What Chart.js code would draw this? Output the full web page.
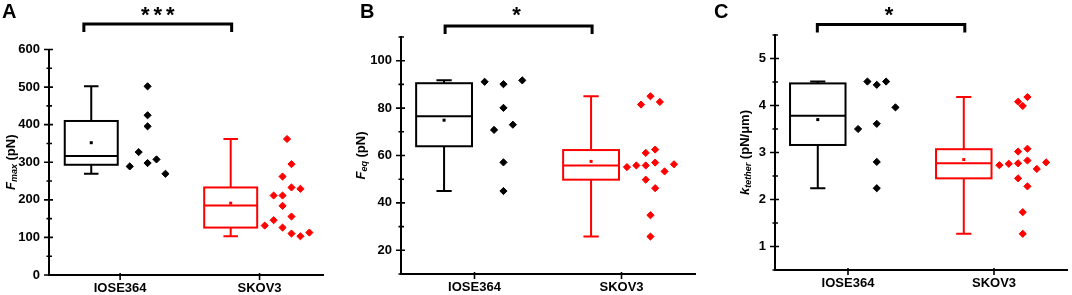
<!DOCTYPE html>
<html>
<head>
<meta charset="utf-8">
<script src="https://cdn.jsdelivr.net/npm/chart.js@4.4.0/dist/chart.umd.min.js"></script>
<style>
  html, body { margin: 0; padding: 0; background: #fff; }
  #wrap { position: relative; width: 1072px; height: 295px; overflow: hidden; }
  #wrap canvas { position: absolute; top: 0; }
</style>
</head>
<body>
<div id="wrap">
  <canvas id="chartA" width="357" height="295" style="left:0px"></canvas>
  <canvas id="chartB" width="369" height="295" style="left:345px"></canvas>
  <canvas id="chartC" width="358" height="295" style="left:714px"></canvas>
</div>
<script>
const groups = ['IOSE364', 'SKOV3'];
const groupColors = ['#000000', '#ff0000'];

// A: F_max (pN)
const fmaxIose = [288.9, 327, 502, 425, 395.6, 297.8, 307.6, 269.3];
const fmaxIoseCol = [-2, -1, 0, 0, 0, 0, 1, 2];
const fmaxSkov = [131.5, 145.8, 211.5, 211.5, 361.8, 295, 262, 232.9, 229.3, 184, 155.6, 126.2, 110.2, 103.1, 112.9];
const fmaxSkovCol = [-2.5, -1.5, -1.5, -0.5, 0, 0.5, -0.5, 0.5, 1.5, -0.5, 0.5, -0.5, 0.5, 1.5, 2.5];
// box stats: min, q1, median, q3, max, mean
const fmaxIoseBox = [269.3, 293.3, 316.4, 409.8, 502, 352];
const fmaxSkovBox = [103.1, 126.2, 184.9, 232.9, 361.8, 191.1];
const fmaxTicks = [0, 100, 200, 300, 400, 500, 600];
const fmaxMinor = [50, 150, 250, 350, 450, 550];

// B: F_eq (pN)
const feqIose = [91.1, 90.1, 91.7, 80.1, 70.8, 73.0, 57.1, 45.0];
const feqIoseCol = [-2, 0, 2, 0, -1, 1, 0, 0];
const feqSkov = [55.1, 55.8, 55.8, 49.8, 61.1, 62.5, 57.0, 53.3, 56.3, 46.2, 34.8, 25.8, 81.5, 85.0, 82.6];
const feqSkovCol = [-2.5, -1.5, -0.5, -0.5, -0.5, 0.5, 0.5, 1.5, 2.5, 0.5, 0, 0, -1, 0, 1];
const feqIoseBox = [45.0, 63.9, 76.6, 90.5, 91.7, 74.9];
const feqSkovBox = [25.8, 49.8, 55.8, 62.3, 85.0, 57.5];
const feqTicks = [20, 40, 60, 80, 100];
const feqMinor = [10, 30, 50, 70, 90, 110];

// C: k_tether (pN/um)
const ktIose = [3.50, 4.51, 4.44, 4.51, 3.61, 3.96, 2.80, 2.24];
const ktIoseCol = [-2, -1, 0, 1, 0, 2, 0, 0];
const ktSkov = [2.73, 2.76, 2.77, 2.83, 2.65, 2.79, 3.02, 3.08, 2.45, 2.28, 1.73, 1.27, 4.08, 3.99, 4.18];
const ktSkovCol = [-2.5, -1.5, -0.5, 0.5, 1.5, 2.5, -0.5, 0.5, -0.5, 0.5, 0, 0, -0.5, 0, 0.5];
const ktIoseBox = [2.24, 3.16, 3.78, 4.47, 4.51, 3.70];
const ktSkovBox = [1.27, 2.45, 2.77, 3.07, 4.18, 2.85];
const ktTicks = [1, 2, 3, 4, 5];
const ktMinor = [0.5, 1.5, 2.5, 3.5, 4.5, 5.5];

// significance brackets (x in axis units)
const sigLabels = ['***', '*', '*'];
const sigSpans = [[0.74, 1.8], [0.8, 1.8], [0.79, 1.8]];

// layout of the box / dot columns around each category
const boxShift = -0.207, boxHalf = 0.19, capHalf = 0.052;
const dotShift = 0.197, colStep = 0.064;
const FONT = "'Liberation Sans', Arial, sans-serif";

const boxPlugin = {
  id: 'boxes',
  beforeDatasetsDraw(chart, args, opts) {
    const ctx = chart.ctx, x = chart.scales.x, y = chart.scales.y;
    opts.boxes.forEach((b, i) => {
      const [lo, q1, med, q3, hi, mean] = b;
      const c = i + 1 + boxShift;
      const xl = x.getPixelForValue(c - boxHalf), xr = x.getPixelForValue(c + boxHalf);
      const xm = x.getPixelForValue(c);
      const cl = x.getPixelForValue(c - capHalf), cr = x.getPixelForValue(c + capHalf);
      ctx.save();
      ctx.strokeStyle = groupColors[i];
      ctx.fillStyle = groupColors[i];
      ctx.lineWidth = 2;
      ctx.strokeRect(xl, y.getPixelForValue(q3), xr - xl, y.getPixelForValue(q1) - y.getPixelForValue(q3));
      ctx.beginPath();
      ctx.moveTo(xl, y.getPixelForValue(med)); ctx.lineTo(xr, y.getPixelForValue(med));
      ctx.moveTo(xm, y.getPixelForValue(q3)); ctx.lineTo(xm, y.getPixelForValue(hi));
      ctx.moveTo(xm, y.getPixelForValue(q1)); ctx.lineTo(xm, y.getPixelForValue(lo));
      ctx.moveTo(cl, y.getPixelForValue(hi)); ctx.lineTo(cr, y.getPixelForValue(hi));
      ctx.moveTo(cl, y.getPixelForValue(lo)); ctx.lineTo(cr, y.getPixelForValue(lo));
      ctx.stroke();
      ctx.fillRect(xm - 1.5, y.getPixelForValue(mean) - 1.5, 3, 3);
      ctx.restore();
    });
  }
};

const decoPlugin = {
  id: 'deco',
  afterDraw(chart, args, o) {
    const ctx = chart.ctx, a = chart.chartArea, x = chart.scales.x, y = chart.scales.y;
    ctx.save();
    ctx.strokeStyle = '#000';
    ctx.fillStyle = '#000';
    ctx.lineWidth = 1.6;
    ctx.beginPath();
    o.major.forEach(v => {
      const p = y.getPixelForValue(v);
      ctx.moveTo(a.left - 5, p); ctx.lineTo(a.left + 4, p);
    });
    o.minor.forEach(v => {
      const p = y.getPixelForValue(v);
      ctx.moveTo(a.left - 2.5, p); ctx.lineTo(a.left + 3, p);
    });
    groups.forEach((g, i) => {
      const p = x.getPixelForValue(i + 1);
      ctx.moveTo(p, a.bottom - 2); ctx.lineTo(p, a.bottom + 5);
    });
    ctx.stroke();

    // significance bracket
    const bx1 = x.getPixelForValue(o.span[0]), bx2 = x.getPixelForValue(o.span[1]);
    ctx.lineWidth = 3;
    ctx.beginPath();
    ctx.moveTo(bx1, o.bracketY + 8); ctx.lineTo(bx1, o.bracketY);
    ctx.lineTo(bx2, o.bracketY); ctx.lineTo(bx2, o.bracketY + 8);
    ctx.stroke();
    ctx.font = 'bold 22px ' + FONT;
    ctx.textAlign = 'center';
    ctx.textBaseline = 'alphabetic';
    ctx.letterSpacing = '4px';
    ctx.fillText(o.sig, (bx1 + bx2) / 2 + (o.sig.length > 1 ? 2 : 0), 21.5);
    ctx.letterSpacing = '0px';

    // panel letter
    ctx.font = 'bold 20px ' + FONT;
    ctx.textAlign = 'left';
    ctx.fillText(o.letter, o.letterX, 18);

    // rotated y title with subscript
    ctx.translate(o.titleX, (a.top + a.bottom) / 2);
    ctx.rotate(-Math.PI / 2);
    ctx.textBaseline = 'middle';
    const fonts = { i: 'italic bold 13px ' + FONT, s: 'italic bold 9px ' + FONT, n: 'bold 13px ' + FONT };
    let total = 0;
    o.title.forEach(p => { ctx.font = fonts[p[1]]; total += ctx.measureText(p[0]).width; });
    let cx = -total / 2;
    o.title.forEach(p => {
      ctx.font = fonts[p[1]];
      ctx.fillText(p[0], cx, p[1] === 's' ? 3.5 : 0);
      cx += ctx.measureText(p[0]).width;
    });
    ctx.restore();
  }
};

function makePanel(id, p) {
  const series = [[p.iose, p.ioseCol], [p.skov, p.skovCol]];
  return new Chart(document.getElementById(id), {
    type: 'scatter',
    data: {
      datasets: series.map((s, i) => ({
        data: s[0].map((v, k) => ({ x: i + 1 + dotShift + s[1][k] * colStep, y: v })),
        pointStyle: 'rectRot',
        pointRadius: 3.6,
        backgroundColor: groupColors[i],
        borderColor: groupColors[i],
        borderWidth: 1
      }))
    },
    options: {
      responsive: false,
      animation: false,
      events: [],
      layout: { padding: { top: p.area[1], right: p.left + p.width - p.area[2], left: 0, bottom: 0 } },
      plugins: {
        legend: { display: false },
        tooltip: { enabled: false },
        boxes: { boxes: [p.ioseBox, p.skovBox] },
        deco: {
          major: p.ticks, minor: p.minor, span: p.span, sig: p.sig, bracketY: p.bracketY,
          letter: p.letter, letterX: p.letterX - p.left, title: p.title, titleX: p.titleX - p.left
        }
      },
      scales: {
        x: {
          type: 'linear',
          min: p.xRange[0],
          max: p.xRange[1],
          afterBuildTicks: s => { s.ticks = groups.map((g, i) => ({ value: i + 1 })); },
          afterFit: s => { s.height = 295 - p.area[3]; },
          ticks: {
            callback: v => groups[Math.round(v) - 1],
            color: '#000',
            font: { family: FONT, size: 13, weight: 'bold' },
            padding: 6,
            maxRotation: 0,
            autoSkip: false
          },
          grid: { display: false, drawTicks: false },
          border: { display: true, color: '#000', width: 2 }
        },
        y: {
          type: 'linear',
          min: p.yRange[0],
          max: p.yRange[1],
          afterBuildTicks: s => { s.ticks = p.ticks.map(v => ({ value: v })); },
          afterFit: s => { s.width = p.area[0] - p.left; },
          ticks: {
            color: '#000',
            font: { family: FONT, size: 13, weight: 'bold' },
            padding: 9
          },
          grid: { display: false, drawTicks: false },
          border: { display: true, color: '#000', width: 2 }
        }
      }
    },
    plugins: [boxPlugin, decoPlugin]
  });
}

makePanel('chartA', {
  left: 0, width: 357, area: [49, 49.5, 323, 275], xRange: [0.49, 2.455], yRange: [0, 600],
  iose: fmaxIose, ioseCol: fmaxIoseCol, skov: fmaxSkov, skovCol: fmaxSkovCol,
  ioseBox: fmaxIoseBox, skovBox: fmaxSkovBox, ticks: fmaxTicks, minor: fmaxMinor,
  span: sigSpans[0], sig: sigLabels[0], bracketY: 24,
  letter: 'A', letterX: 2, titleX: 11,
  title: [['F', 'i'], ['max', 's'], [' (pN)', 'n']]
});

makePanel('chartB', {
  left: 345, width: 369, area: [401, 37, 695, 274], xRange: [0.5, 2.5], yRange: [10, 110],
  iose: feqIose, ioseCol: feqIoseCol, skov: feqSkov, skovCol: feqSkovCol,
  ioseBox: feqIoseBox, skovBox: feqSkovBox, ticks: feqTicks, minor: feqMinor,
  span: sigSpans[1], sig: sigLabels[1], bracketY: 26,
  letter: 'B', letterX: 360, titleX: 361,
  title: [['F', 'i'], ['eq', 's'], [' (pN)', 'n']]
});

makePanel('chartC', {
  left: 714, width: 358, area: [775, 35, 1070, 270], xRange: [0.5, 2.5], yRange: [0.5, 5.5],
  iose: ktIose, ioseCol: ktIoseCol, skov: ktSkov, skovCol: ktSkovCol,
  ioseBox: ktIoseBox, skovBox: ktSkovBox, ticks: ktTicks, minor: ktMinor,
  span: sigSpans[2], sig: sigLabels[2], bracketY: 24.5,
  letter: 'C', letterX: 714, titleX: 745,
  title: [['k', 'i'], ['tether', 's'], [' (pN/\u03bcm)', 'n']]
});
</script>
</body>
</html>
